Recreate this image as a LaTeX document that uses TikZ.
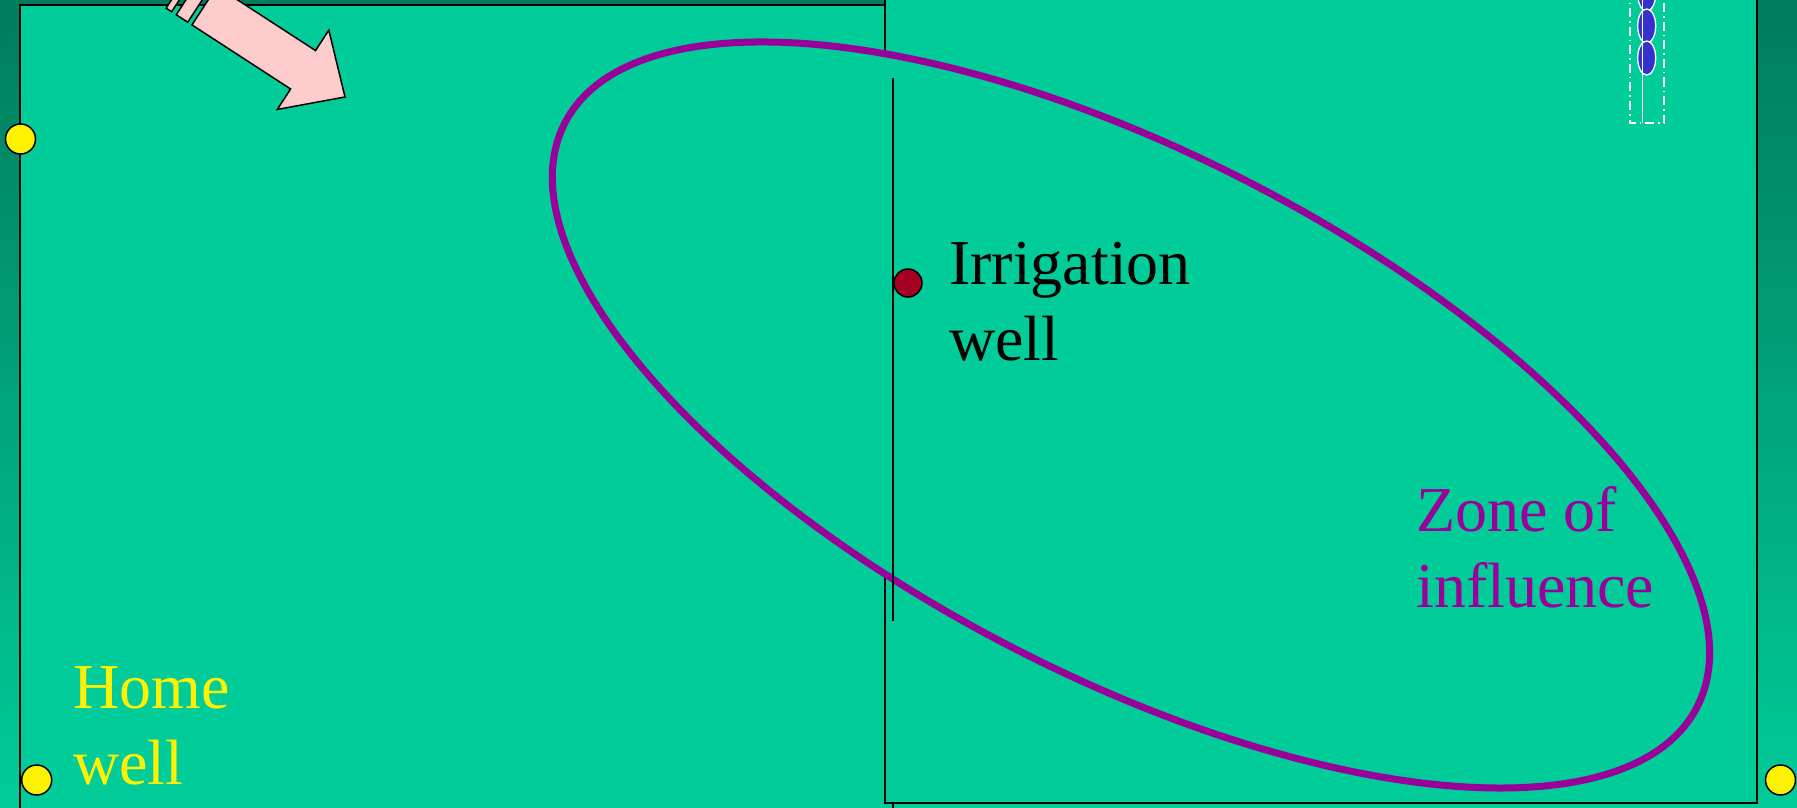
\documentclass[tikz,border=0pt]{standalone}
\usepackage{fontspec}
\setmainfont{Liberation Serif}
\usepackage{tikz}
\usetikzlibrary{calc,positioning}
\definecolor{fieldgreen}{RGB}{0,204,153}
\definecolor{bandgreen}{RGB}{0,124,92}
\definecolor{arrowpink}{RGB}{255,204,204}
\definecolor{zonepurple}{RGB}{153,0,153}
\definecolor{wellred}{RGB}{165,0,33}
\definecolor{wellblue}{RGB}{51,51,204}
\tikzset{>=latex}
\tikzset{
  field/.style={draw=black, line width=1.5pt, fill=fieldgreen},
  homewell/.style={circle, draw=black, line width=1.5pt, fill=yellow,
    minimum size=30pt, inner sep=0pt},
  irrwell/.style={circle, draw=black, line width=1.5pt, fill=wellred,
    minimum size=28pt, inner sep=0pt},
  zone/.style={draw=zonepurple, line width=7pt, fill=fieldgreen},
  arrowbody/.style={draw=black, line width=1.5pt, fill=arrowpink, line join=miter},
  bigtext/.style={font=\fontsize{64}{76}\selectfont, align=left,
    inner sep=0pt, anchor=base west},
}

\begin{document}
\begin{tikzpicture}[x=1pt, y=-1pt]
  \clip (0,0) rectangle (1797,808);
  \shade[top color=bandgreen, bottom color=fieldgreen] (0,0) rectangle (1797,808);
  % the two fields
  \coordinate (A1) at (20,5); \coordinate (A2) at (893,830);
  \coordinate (B1) at (885,-20); \coordinate (B2) at (1757,803);
  \draw[field] (A1) rectangle (A2);
  \draw[field] (B1) rectangle (B2);
  % wells on the edges
  \node[homewell] (cornerwell) at (20.5,139) {};
  \node[homewell] (home) at (36.7,780) {};
  \node[homewell] (farwell) at (1780.5,780) {};
  \node[bigtext, text=yellow] (hometext) at (73,784) {Home\\well};
  % zone of influence
  \coordinate (zonecenter) at (1131,415);
  \draw[zone, rotate around={-27.3:(zonecenter)}] (zonecenter)
    ellipse [x radius=637pt, y radius=261pt];
  \coordinate (linetop) at (893,78); \coordinate (linebot) at (893,621);
  \draw[line width=1.5pt] (linetop) -- (linebot);
  \node[irrwell] (irr) at (908,283) {};
  \node[bigtext] (irrtext) at (949,360) {Irrigation\\well};
  \node[bigtext, text=zonepurple] (zonetext) at (1416,607) {Zone of\\influence};
  % well symbol, top right
  \begin{scope}[white, line width=1.3pt]
    \draw[dash pattern=on 9pt off 4pt on 1.5pt off 4pt] (1630,-10) rectangle (1664,123);
    \foreach \yy in {-6,26,58}
      \draw[fill=wellblue] (1646.7,\yy) ellipse [x radius=9pt, y radius=17pt];
    \coordinate (pipetop) at (1642.7,-10); \coordinate (pipebot) at (1642.7,123);
    \draw (pipetop) -- (pipebot);
  \end{scope}
  % striped arrow
  \begin{scope}[shift={(345,97)}, rotate=-33]
    \draw[arrowbody] (0,0) -- (-50,47.3) -- (-50,22.9) -- (-167.6,22.9)
      -- (-167.6,-22.9) -- (-50,-22.9) -- (-50,-47.3) -- cycle;
    \draw[arrowbody] (-172.6,22.9) rectangle (-186.3,-22.9);
    \draw[arrowbody] (-191.8,22.9) rectangle (-198.4,-22.9);
  \end{scope}
\end{tikzpicture}
\end{document}
